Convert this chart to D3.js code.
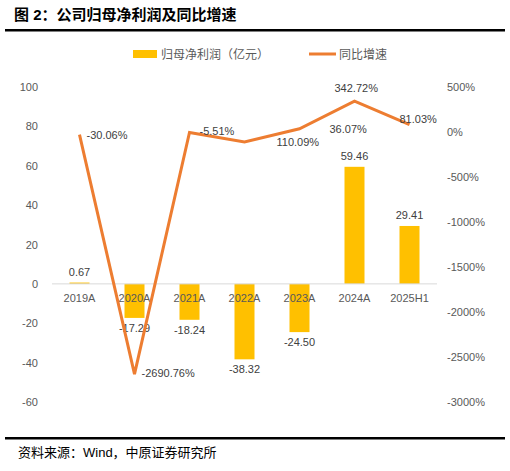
<!DOCTYPE html>
<html><head><meta charset="utf-8">
<script src="https://cdn.jsdelivr.net/npm/d3@7"></script>
<style>body{margin:0;background:#fff}text{font-family:"Liberation Sans","Noto Sans CJK SC",sans-serif}</style>
</head><body><svg id="c" width="510" height="471"></svg>
<script>
"use strict";
var years = ['2019A','2020A','2021A','2022A','2023A','2024A','2025H1'];
var profit = [0.67,-17.29,-18.24,-38.32,-24.50,59.46,29.41];
var growth = [-30.06,-2690.76,-5.51,-110.09,36.07,342.72,81.03];
var growthText = ['-30.06%','-2690.76%','-5.51%','110.09%','36.07%','342.72%','81.03%'];
var leftTicks = [100,80,60,40,20,0,-20,-40,-60];
var rightTicks = [500,0,-500,-1000,-1500,-2000,-2500,-3000];

var svg = d3.select('#c');
var gray = '#595959';
var x = d3.scaleBand().domain(years).range([52,437]);
var yL = d3.scaleLinear().domain([-60,100]).range([402,87]);
var yR = d3.scaleLinear().domain([-3000,500]).range([402,87]);

svg.append('text').attr('x',14).attr('y',20).attr('font-size',15).attr('font-weight','bold')
   .attr('font-family','"Noto Sans CJK SC",sans-serif').text('图 2：公司归母净利润及同比增速');
svg.append('rect').attr('x',5).attr('y',29).attr('width',500).attr('height',2.5).attr('fill','#000');

// legend
svg.append('rect').attr('x',133).attr('y',50).attr('width',24).attr('height',8).attr('fill','#FFC000');
svg.append('text').attr('x',161).attr('y',59).attr('font-size',12).attr('fill',gray).text('归母净利润（亿元）');
svg.append('line').attr('x1',309).attr('x2',336).attr('y1',54).attr('y2',54).attr('stroke','#ED7D31').attr('stroke-width',3);
svg.append('text').attr('x',339).attr('y',59).attr('font-size',12).attr('fill',gray).text('同比增速');

svg.selectAll('text.yl').data(leftTicks).enter().append('text')
   .attr('x',38).attr('y',d=>yL(d)+4).attr('text-anchor','end').attr('font-size',11).attr('fill',gray).text(d=>d);
svg.selectAll('text.yr').data(rightTicks).enter().append('text')
   .attr('x',447).attr('y',d=>yR(d)+4).attr('font-size',11).attr('fill',gray).text(d=>d+'%');

svg.selectAll('rect.bar').data(profit).enter().append('rect')
   .attr('x',(d,i)=>x(years[i])+x.bandwidth()/2-10).attr('width',20)
   .attr('y',d=>Math.min(yL(d),yL(0))).attr('height',d=>Math.abs(yL(d)-yL(0))).attr('fill','#FFC000');

svg.append('line').attr('x1',52).attr('x2',437).attr('y1',yL(0)).attr('y2',yL(0)).attr('stroke','#d9d9d9');
svg.selectAll('text.xl').data(years).enter().append('text')
   .attr('x',d=>x(d)+x.bandwidth()/2).attr('y',yL(0)+18).attr('text-anchor','middle').attr('font-size',11).attr('fill',gray).text(d=>d);

svg.selectAll('text.bl').data(profit).enter().append('text')
   .attr('x',(d,i)=>x(years[i])+x.bandwidth()/2).attr('y',d=>d>=0?yL(d)-7:yL(d)+14)
   .attr('text-anchor','middle').attr('font-size',11).attr('fill','#404040').text(d=>d.toFixed(2));

var line = d3.line().x((d,i)=>x(years[i])+x.bandwidth()/2).y(d=>yR(d));
svg.append('path').datum(growth).attr('d',line).attr('fill','none').attr('stroke','#ED7D31').attr('stroke-width',3);

var dx = [7,7,10,32,30,-20,-10], dy = [4,3,3,4,4,-9,-2];
svg.selectAll('text.gl').data(growth).enter().append('text')
   .attr('x',(d,i)=>x(years[i])+x.bandwidth()/2+dx[i]).attr('y',(d,i)=>yR(d)+dy[i])
   .attr('font-size',11).attr('fill','#404040').text((d,i)=>growthText[i]);

svg.append('rect').attr('x',5).attr('y',437).attr('width',500).attr('height',2.5).attr('fill','#000');
svg.append('text').attr('x',18).attr('y',457).attr('font-size',13).attr('font-family','"Noto Sans CJK SC",sans-serif').text('资料来源：Wind，中原证券研究所');
</script></body></html>
